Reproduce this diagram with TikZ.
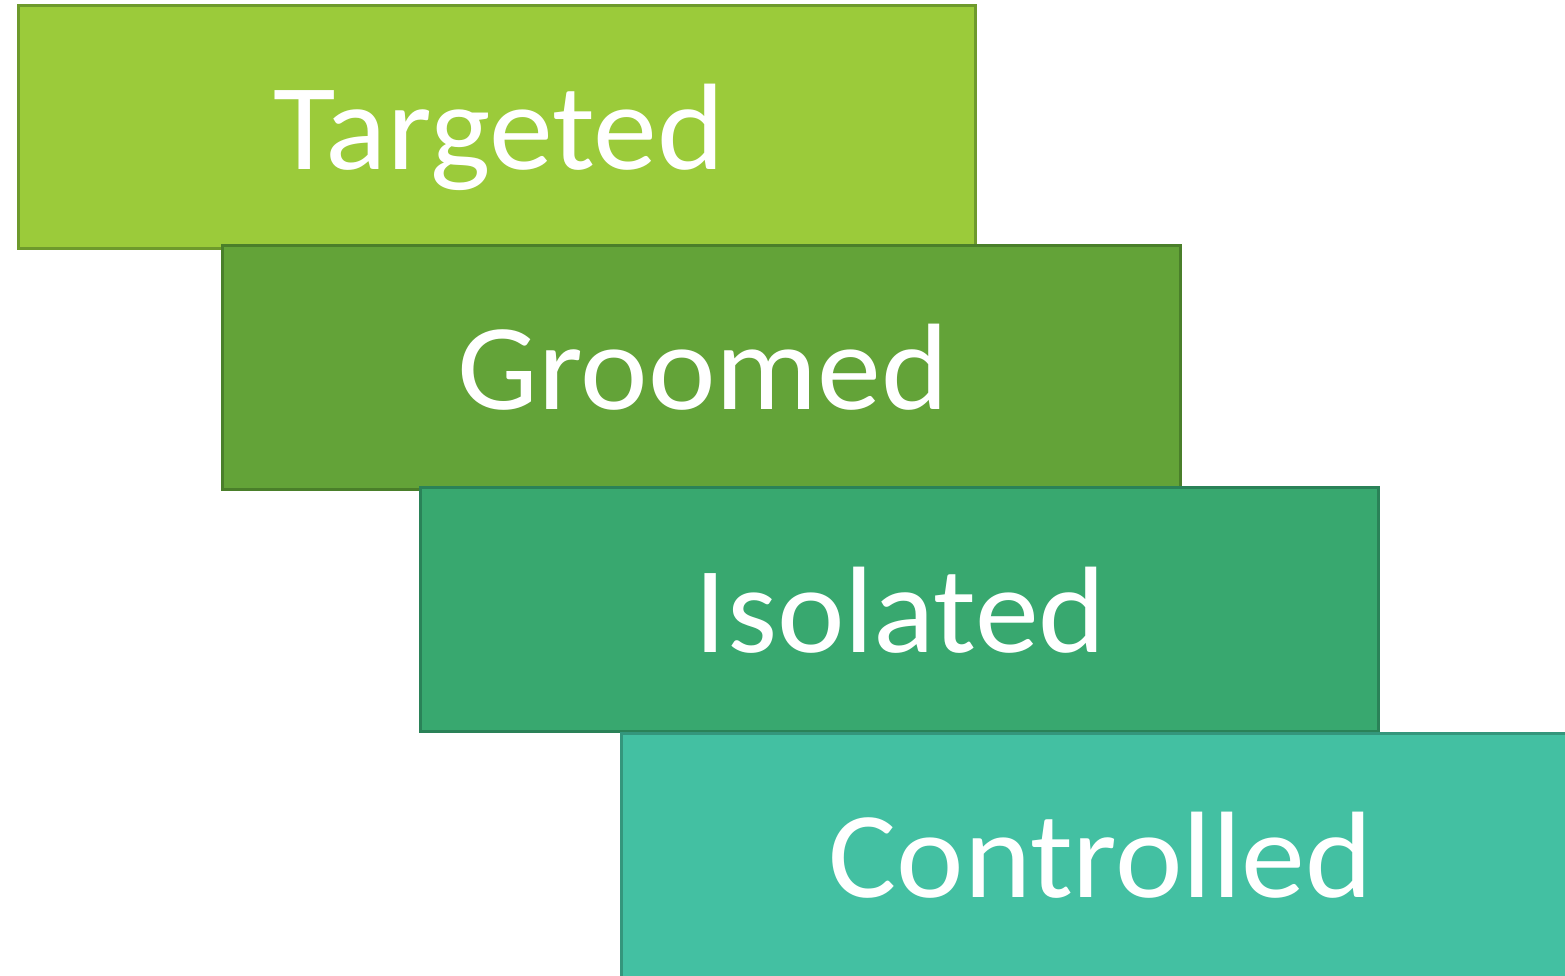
\documentclass[tikz,border=0pt]{standalone}
\usepackage{fontspec}
\setmainfont{Carlito}
\begin{document}
\begin{tikzpicture}[x=1pt,y=-1pt,
  stagebox/.style={line width=3pt, line join=miter},
  stagelabel/.style={anchor=base, text=white, inner sep=0pt,
    font=\fontsize{123}{123}\selectfont}]
\definecolor{fillA}{HTML}{9BCB3A}\definecolor{lineA}{HTML}{6E9A2C}
\definecolor{fillB}{HTML}{63A338}\definecolor{lineB}{HTML}{4A7F2A}
\definecolor{fillC}{HTML}{38A86F}\definecolor{lineC}{HTML}{2A8258}
\definecolor{fillD}{HTML}{43C0A2}\definecolor{lineD}{HTML}{34967C}
\newcommand{\widelabel}[1]{\scalebox{1.04}[1]{#1}}
\useasboundingbox (0,0) rectangle (1565,976);
\begin{scope}
\clip (0,0) rectangle (1565,976);
% stepped stages, each one laid over the previous
\draw[stagebox, fill=fillA, draw=lineA] (18.5,6) rectangle (975.5,248.5);
\node[stagelabel] (targeted) at (499,170) {\widelabel{Targeted}};
\draw[stagebox, fill=fillB, draw=lineB] (222.5,245.5) rectangle (1180,489);
\node[stagelabel] (groomed) at (703,409) {\widelabel{Groomed}};
\draw[stagebox, fill=fillC, draw=lineC] (420,487.5) rectangle (1378,731);
\node[stagelabel] (isolated) at (900.5,652) {\widelabel{Isolated}};
\draw[stagebox, fill=fillD, draw=lineD] (621.5,733.5) rectangle (1580,990);
\node[stagelabel] (controlled) at (1100.5,897) {\widelabel{Controlled}};
\end{scope}
\end{tikzpicture}
\end{document}
